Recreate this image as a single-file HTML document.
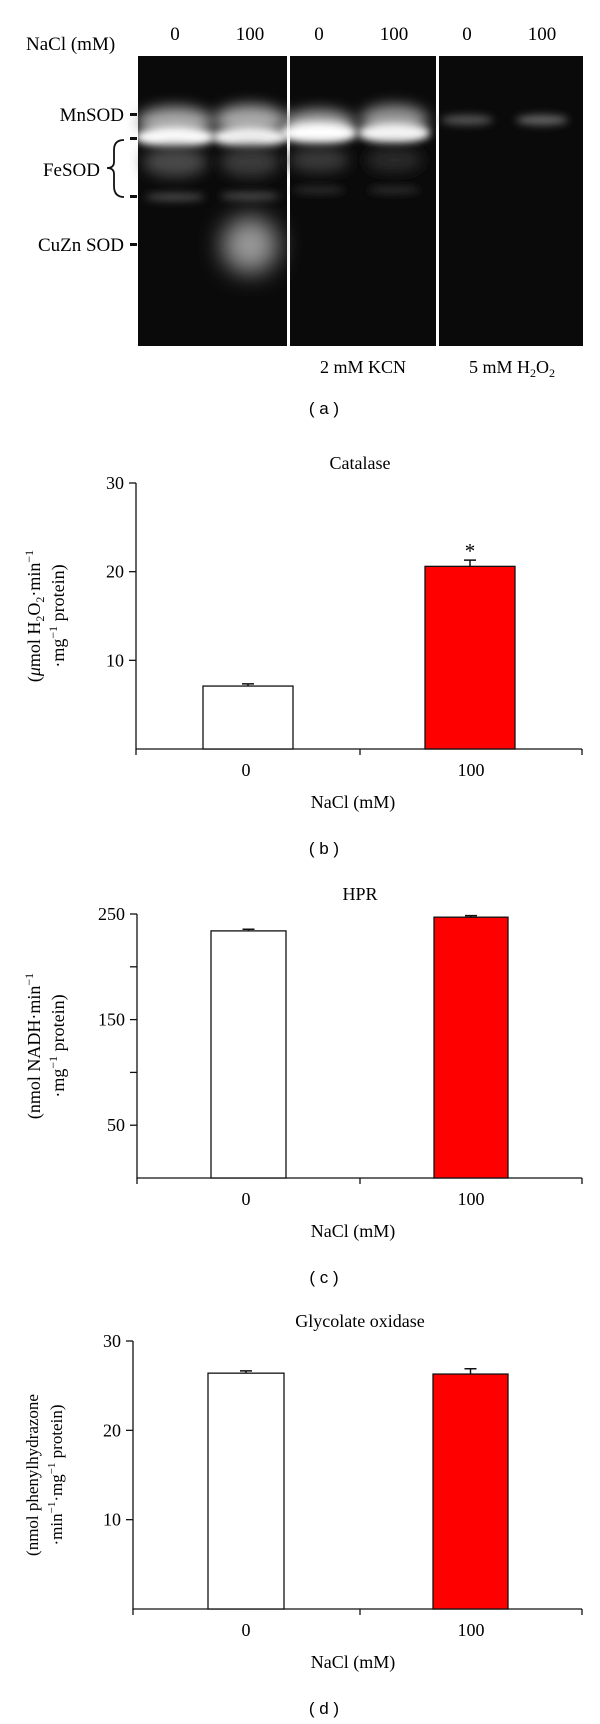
<!DOCTYPE html>
<html><head><meta charset="utf-8"><style>
body{margin:0;background:#fff;}
svg{display:block;font-family:"Liberation Serif",serif;}
.s{font-family:"Liberation Sans",sans-serif;}
</style></head><body>
<svg id="root" width="600" height="1724" viewBox="0 0 600 1724" xmlns="http://www.w3.org/2000/svg">
<defs>
<filter id="b6" x="-50%" y="-100%" width="200%" height="300%"><feGaussianBlur stdDeviation="7"/></filter>
<filter id="b3" x="-50%" y="-100%" width="200%" height="300%"><feGaussianBlur stdDeviation="4"/></filter>
<filter id="b10" x="-50%" y="-50%" width="200%" height="200%"><feGaussianBlur stdDeviation="12"/></filter>
</defs>
<g>
<text x="26" y="50" font-size="19">NaCl (mM)</text>
<g font-size="19" text-anchor="middle">
<text x="175" y="40">0</text>
<text x="250" y="40">100</text>
<text x="319" y="40">0</text>
<text x="394" y="40">100</text>
<text x="467" y="40">0</text>
<text x="542" y="40">100</text>
</g>
<rect x="138" y="56" width="445" height="290" fill="#0a0a0a"/>
<rect x="287" y="56" width="3" height="290" fill="#fff"/>
<rect x="436" y="56" width="3" height="290" fill="#fff"/>
<g>
<ellipse cx="175" cy="122" rx="38" ry="15" fill="#aaa" filter="url(#b6)"/>
<ellipse cx="250" cy="120" rx="36" ry="15" fill="#aaa" filter="url(#b6)"/>
<ellipse cx="175" cy="137" rx="40" ry="10" fill="#fff" filter="url(#b3)"/>
<ellipse cx="250" cy="137" rx="38" ry="10" fill="#f4f4f4" filter="url(#b3)"/>
<ellipse cx="175" cy="162" rx="32" ry="15" fill="#4a4a4a" filter="url(#b6)"/>
<ellipse cx="250" cy="162" rx="30" ry="15" fill="#3a3a3a" filter="url(#b6)"/>
<ellipse cx="175" cy="197" rx="30" ry="4" fill="#4a4a4a" filter="url(#b3)"/>
<ellipse cx="250" cy="196" rx="30" ry="4" fill="#4a4a4a" filter="url(#b3)"/>
<ellipse cx="250" cy="245" rx="28" ry="28" fill="#999" filter="url(#b10)"/>
<ellipse cx="319" cy="125" rx="36" ry="15" fill="#aaa" filter="url(#b6)"/>
<ellipse cx="394" cy="120" rx="34" ry="15" fill="#999" filter="url(#b6)"/>
<ellipse cx="319" cy="133" rx="38" ry="10" fill="#fff" filter="url(#b3)"/>
<ellipse cx="394" cy="133" rx="36" ry="10" fill="#f4f4f4" filter="url(#b3)"/>
<ellipse cx="319" cy="160" rx="30" ry="12" fill="#3a3a3a" filter="url(#b6)"/>
<ellipse cx="394" cy="160" rx="28" ry="12" fill="#2c2c2c" filter="url(#b6)"/>
<ellipse cx="319" cy="190" rx="26" ry="4" fill="#2c2c2c" filter="url(#b3)"/>
<ellipse cx="394" cy="190" rx="26" ry="4" fill="#2c2c2c" filter="url(#b3)"/>
<ellipse cx="467" cy="120" rx="26" ry="5" fill="#555" filter="url(#b3)"/>
<ellipse cx="542" cy="120" rx="26" ry="5" fill="#666" filter="url(#b3)"/>
</g>
<g font-size="19" text-anchor="end">
<text x="124" y="121">MnSOD</text>
<text x="100" y="176">FeSOD</text>
<text x="124" y="251">CuZn SOD</text>
</g>
<g fill="#111">
<rect x="130" y="113" width="7" height="3"/><rect x="130" y="137" width="7" height="3"/><rect x="130" y="195" width="7" height="3"/><rect x="130" y="243" width="7" height="3"/>
</g>
<path d="M124,140 Q114,140 114,150 L114,162 Q114,168 107,168 Q114,168 114,174 L114,186 Q114,197 124,197" fill="none" stroke="#111" stroke-width="1.8"/>
<text x="363" y="373" font-size="18" text-anchor="middle">2 mM KCN</text>
<text x="512" y="373" font-size="18" text-anchor="middle">5 mM H<tspan font-size="12" dy="4">2</tspan><tspan dy="-4">O</tspan><tspan font-size="12" dy="4">2</tspan></text>
<text x="324" y="414" font-size="17" text-anchor="middle" class="s">( a )</text>
</g>
<g id="charts"></g>
</svg>
<script>
// Chart b: Catalase
const catCategories = ["0", "100"];
const catValues = [7.1, 20.6];
const catErrors = [0.25, 0.7];
const catTicks = [10, 20, 30];
// Chart c: HPR
const hprCategories = ["0", "100"];
const hprValues = [234, 247];
const hprErrors = [1.5, 1.5];
const hprTicks = [50, 150, 250];
const hprMinorTicks = [100, 200];
// Chart d: Glycolate oxidase
const goCategories = ["0", "100"];
const goValues = [26.4, 26.3];
const goErrors = [0.25, 0.6];
const goTicks = [10, 20, 30];

const NS = "http://www.w3.org/2000/svg";
const charts = document.getElementById("charts");
function mk(tag, attrs, parent) {
  const e = document.createElementNS(NS, tag);
  for (const k in attrs) e.setAttribute(k, attrs[k]);
  (parent || charts).appendChild(e);
  return e;
}
function chart(o) {
  const g = mk("g", {});
  
  
  const y = v => o.y0 - (v - o.vmin) / (o.vmax - o.vmin) * (o.y0 - o.ytop);
  const t = mk("text", {x: 360, y: o.ytop - 14, "font-size": 18, "text-anchor": "middle"}, g);
  t.textContent = o.title;
  
  
  const ax = mk("path", {d: `M${o.ax},${o.ytop} L${o.ax},${o.y0} L582,${o.y0}`, fill: "none", stroke: "#111", "stroke-width": 1.3}, g);
  
  
  const xt = mk("path", {d: `M${o.ax},${o.y0} v6 M360,${o.y0} v6 M582,${o.y0} v6`, stroke: "#111", "stroke-width": 1.3}, g);
  
  
  o.ticks.forEach(v => {
    const tk = mk("line", {x1: o.ax - 7, x2: o.ax, y1: y(v), y2: y(v), stroke: "#111", "stroke-width": 1.3}, g);
    
    
    const tl = mk("text", {x: o.ax - 12, y: y(v) + 6, "font-size": 18, "text-anchor": "end"}, g);
    tl.textContent = v;
    
    
  });
  (o.minor || []).forEach(v => {
    const tk = mk("line", {x1: o.ax - 7, x2: o.ax, y1: y(v), y2: y(v), stroke: "#111", "stroke-width": 1.3}, g);
    
    
  });
  o.cats.forEach((c, i) => {
    const bx = o.bars[i];
    const yt = y(o.vals[i]);
    const ye = y(o.vals[i] + o.errs[i]);
    const cx = (bx[0] + bx[1]) / 2;
    const eb = mk("path", {d: `M${cx},${yt} V${ye} M${cx - 6},${ye} H${cx + 6}`, stroke: "#111", "stroke-width": 1.5}, g);
    
    
    const r = mk("rect", {x: bx[0], y: yt, width: bx[1] - bx[0], height: o.y0 - yt, fill: i ? "#ff0000" : "#fff", stroke: "#111", "stroke-width": 1.3}, g);
    
    
    const xl = mk("text", {x: i ? 471 : 246, y: o.y0 + 27, "font-size": 18, "text-anchor": "middle"}, g);
    xl.textContent = c;
    
    
    if (o.star && o.star[i]) {
      const s = mk("text", {x: cx, y: ye - 2, "font-size": 21, "text-anchor": "middle"}, g);
      s.textContent = "*";
      
      
    }
  });
  const xa = mk("text", {x: 353, y: o.y0 + 59, "font-size": 18, "text-anchor": "middle"}, g);
  xa.textContent = "NaCl (mM)";
  
  
  const pl = mk("text", {x: 324, y: o.y0 + 105, "font-size": 17, "text-anchor": "middle", "class": "s"}, g);
  pl.textContent = o.panel;
  
  
  const cy = (o.ytop + o.y0) / 2;
  const yl = mk("g", {transform: `translate(0,${cy}) rotate(-90)`}, g);
  
  
  yl.innerHTML = o.ylab;
}
chart({name: "catalase-chart", title: "Catalase", ax: 136, y0: 749, ytop: 483, vmin: 0, vmax: 30,
  ticks: catTicks, cats: catCategories, vals: catValues, errs: catErrors, bars: [[203, 293], [425, 515]], star: [false, true], panel: "( b )",
  ylab: '<text x="0" y="40" font-size="18" text-anchor="middle">(<tspan font-style="italic">μ</tspan>mol H<tspan font-size="12" dy="4">2</tspan><tspan dy="-4">O</tspan><tspan font-size="12" dy="4">2</tspan><tspan dy="-4">·min</tspan><tspan font-size="12" dy="-7">−1</tspan></text><text x="0" y="64" font-size="18" text-anchor="middle">·mg<tspan font-size="12" dy="-7">−1</tspan><tspan dy="7"> protein)</tspan></text>'});
chart({name: "hpr-chart", title: "HPR", ax: 137, y0: 1178, ytop: 914, vmin: 0, vmax: 250,
  ticks: hprTicks, minor: hprMinorTicks, cats: hprCategories, vals: hprValues, errs: hprErrors, bars: [[211, 286], [434, 508]], panel: "( c )",
  ylab: '<text x="0" y="40" font-size="18" text-anchor="middle">(nmol NADH·min<tspan font-size="12" dy="-7">−1</tspan></text><text x="0" y="64" font-size="18" text-anchor="middle">·mg<tspan font-size="12" dy="-7">−1</tspan><tspan dy="7"> protein)</tspan></text>'});
chart({name: "glycolate-oxidase-chart", title: "Glycolate oxidase", ax: 133, y0: 1609, ytop: 1341, vmin: 0, vmax: 30,
  ticks: goTicks, cats: goCategories, vals: goValues, errs: goErrors, bars: [[208, 284], [433, 508]], panel: "( d )",
  ylab: '<text x="0" y="38" font-size="17" text-anchor="middle">(nmol phenylhydrazone</text><text x="0" y="62" font-size="17" text-anchor="middle">·min<tspan font-size="11" dy="-7">−1</tspan><tspan dy="7">·mg</tspan><tspan font-size="11" dy="-7">−1</tspan><tspan dy="7"> protein)</tspan></text>'});
</script>
</body></html>
